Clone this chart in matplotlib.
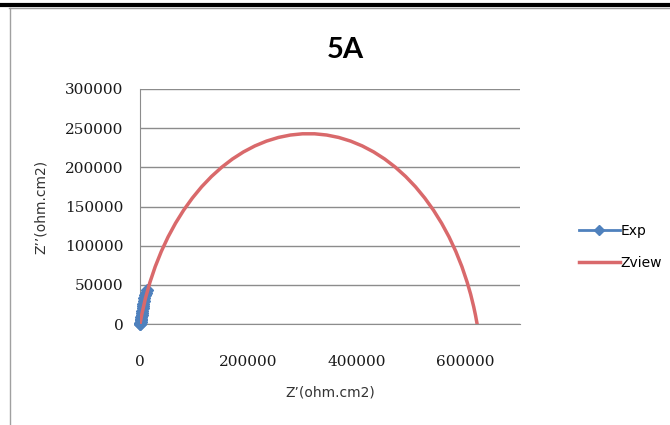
import matplotlib
matplotlib.use("Agg")
import matplotlib.pyplot as plt
from matplotlib.lines import Line2D

# measured impedance (Z', Z'') in ohm.cm2
exp_zre = [0, 500, 900, 1300, 1700, 2100, 2600, 3100, 3600, 4200, 4800,
           5500, 6300, 7200, 8200, 9300, 10500, 12000]
exp_zim = [0, 500, 1500, 3000, 4800, 6800, 9000, 11500, 14200, 17000, 20000,
           23000, 26000, 29500, 33000, 36500, 40000, 43500]

# Zview fitted arc
fit_zre = [0, 3000, 9910, 18290, 28070, 39240, 51710, 65470, 80410, 96470,
           113550, 131620, 150560, 170260, 190670, 211660, 233120, 254970,
           277070, 299340, 321660, 343930, 366030, 387880, 409340, 430330,
           450730, 470440, 489380, 507450, 524530, 540590, 555530, 569290,
           581770, 592930, 602710, 609140, 614730, 618000, 621000]
fit_zim = [0, 11290, 32520, 53220, 73300, 92630, 111150, 128740, 145340,
           160820, 175190, 188300, 200140, 210630, 219710, 227350, 233500,
           238140, 241240, 242810, 242810, 241240, 238140, 233500, 227350,
           219710, 210630, 200140, 188300, 175190, 160820, 145340, 128740,
           111150, 92620, 73300, 53220, 37770, 21960, 11290, 0]

x_ticks = [0, 200000, 400000, 600000]
y_ticks = [0, 50000, 100000, 150000, 200000, 250000, 300000]

fig = plt.figure(figsize=(6.7, 4.25), dpi=100)
fig.patch.set_facecolor("white")

# chart area border and the heavy rule above it
fig.add_artist(Line2D([0, 1], [1 - 5 / 425, 1 - 5 / 425], color="black", lw=3))
fig.add_artist(Line2D([9 / 670, 1], [1 - 8 / 425, 1 - 8 / 425], color="#a0a0a0", lw=1))
fig.add_artist(Line2D([10 / 670, 10 / 670], [0, 1 - 8 / 425], color="#a0a0a0", lw=1))

ax = fig.add_axes([140 / 670, 1 - 324 / 425, 380 / 670, 235 / 425])
ax.set_xlim(0, 700000)
ax.set_ylim(0, 300000)
ax.set_xticks(x_ticks)
ax.set_yticks(y_ticks)
ax.set_xticklabels([str(v) for v in x_ticks])
ax.set_yticklabels([str(v) for v in y_ticks])

ax.grid(axis="y", color="#8c8c8c", lw=1)
ax.set_axisbelow(True)
for side in ["top", "right"]:
    ax.spines[side].set_visible(False)
for side in ["left", "bottom"]:
    ax.spines[side].set_color("#8c8c8c")
ax.tick_params(length=0)
ax.tick_params(axis="y", pad=12)
ax.tick_params(axis="x", pad=22)
for lab in ax.get_xticklabels() + ax.get_yticklabels():
    lab.set_fontfamily("DejaVu Serif")
    lab.set_fontsize(11)
    lab.set_color("#1a1a1a")

ax.plot(exp_zre, exp_zim, color="#4F81BD", lw=2, marker="D", ms=6,
        label="Exp", clip_on=False, zorder=3)
ax.plot(fit_zre, fit_zim, color="#D9696B", lw=2.5, label="Zview", zorder=4,
        solid_joinstyle="round")

ax.set_xlabel("Z\u2019(ohm.cm2)", fontsize=10, color="#333333", labelpad=12)
ax.set_ylabel("Z\u2019\u2019(ohm.cm2)", fontsize=10, color="#333333", labelpad=12)

fig.text(345 / 670, 1 - 50 / 425, "5A", ha="center", va="center",
         fontsize=21, fontweight="bold", family="Lato")

fig.legend(loc="center left", bbox_to_anchor=(566 / 670, 1 - 247 / 425),
           frameon=False, fontsize=10, handlelength=3.0, handletextpad=0.0,
           labelspacing=1.3, markerscale=0.8)

fig.savefig("out.png", dpi=100)
